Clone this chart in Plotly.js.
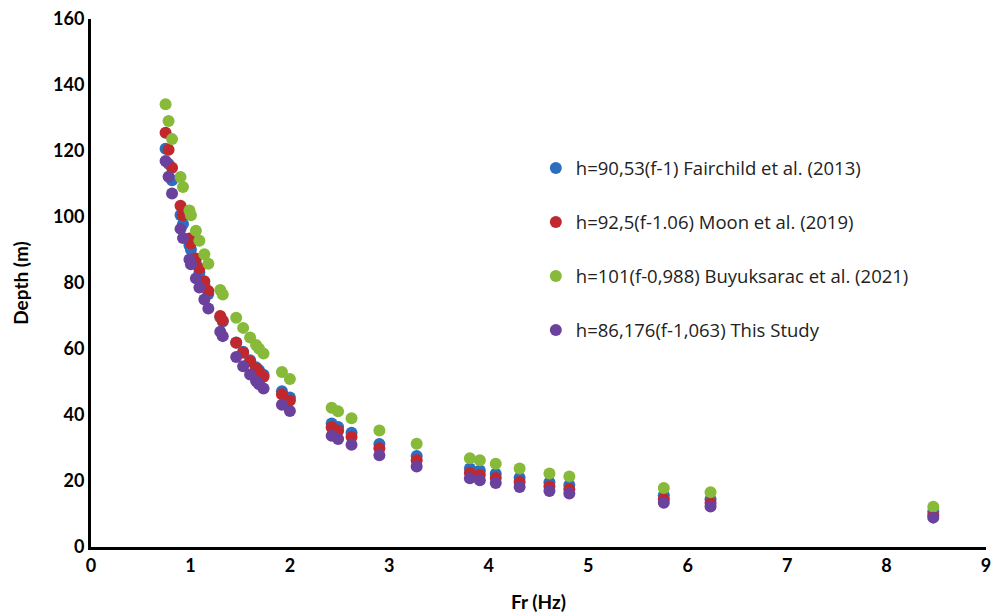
<!DOCTYPE html>
<html>
<head>
<meta charset="utf-8">
<script src="https://cdn.plot.ly/plotly-3.0.1.min.js"></script>
<style>html,body{margin:0;padding:0;background:#fff;}#chart{width:999px;height:613px;}</style>
</head>
<body>
<div id="chart"></div>
<script>
const freq = [0.75, 0.78, 0.815, 0.90, 0.925, 0.99, 1.005, 1.055, 1.09, 1.14, 1.18, 1.30, 1.325, 1.46, 1.53, 1.60, 1.66, 1.69, 1.735, 1.92, 2.0, 2.42, 2.485, 2.62, 2.9, 3.275, 3.81, 3.91, 4.07, 4.31, 4.61, 4.81, 5.76, 6.23, 8.47];
const fairchild = [120.7, 116.1, 111.1, 100.6, 97.9, 91.4, 90.1, 85.8, 83.1, 79.4, 76.7, 69.6, 68.3, 62.0, 59.2, 56.6, 54.5, 53.6, 52.2, 47.2, 45.3, 37.4, 36.4, 34.6, 31.2, 27.6, 23.8, 23.2, 22.2, 21.0, 19.6, 18.8, 15.7, 14.5, 10.7];
const moon = [125.5, 120.4, 114.9, 103.4, 100.5, 93.5, 92.0, 87.4, 84.4, 80.5, 77.6, 70.0, 68.6, 61.9, 58.9, 56.2, 54.1, 53.0, 51.6, 46.3, 44.4, 36.3, 35.2, 33.3, 29.9, 26.3, 22.4, 21.8, 20.9, 19.7, 18.3, 17.5, 14.5, 13.3, 9.6];
const buyuksarac = [134.2, 129.1, 123.6, 112.1, 109.1, 102.0, 100.5, 95.8, 92.8, 88.7, 85.8, 77.9, 76.5, 69.5, 66.4, 63.5, 61.2, 60.1, 58.6, 53.0, 50.9, 42.2, 41.1, 39.0, 35.3, 31.3, 26.9, 26.3, 25.2, 23.8, 22.3, 21.4, 17.9, 16.6, 12.2];
const thisStudy = [117.0, 112.2, 107.1, 96.4, 93.6, 87.1, 85.7, 81.4, 78.6, 75.0, 72.3, 65.2, 63.9, 57.6, 54.8, 52.3, 50.3, 49.3, 48.0, 43.1, 41.2, 33.7, 32.7, 31.0, 27.8, 24.4, 20.8, 20.2, 19.4, 18.2, 17.0, 16.2, 13.4, 12.3, 8.9];
const seriesNames = ["h=90,53(f-1) Fairchild et al. (2013)", "h=92,5(f-1.06) Moon et al. (2019)", "h=101(f-0,988) Buyuksarac et al. (2021)", "h=86,176(f-1,063) This Study"];
const seriesColors = ["#2d6fbf", "#c0282e", "#86ba38", "#6a419d"];
const seriesValues = [fairchild, moon, buyuksarac, thisStudy];
const xTicks = [0,1,2,3,4,5,6,7,8,9];
const yTicks = [0,20,40,60,80,100,120,140,160];

const traces = seriesValues.map((vals, i) => ({
  type: 'scatter', mode: 'markers', x: freq, y: vals, name: seriesNames[i],
  legendgroup: 'g' + i,
  marker: {color: seriesColors[i], size: 12, line: {width: 0}}
}));

const layout = {
  width: 999, height: 613,
  margin: {l: 91, r: 13, t: 19, b: 66},
  paper_bgcolor: '#fff', plot_bgcolor: '#fff',
  font: {family: 'Lato, "Open Sans", sans-serif', color: '#000'},
  showlegend: true,
  legend: {x: 0.497, y: 0.753, xanchor: 'left', yanchor: 'top', bgcolor: 'rgba(0,0,0,0)',
    font: {size: 18.5, color: '#222', family: '"Open Sans", Lato, sans-serif'}, tracegroupgap: 27, itemsizing: 'constant'},
  xaxis: {range: [0, 9], tickvals: xTicks, ticktext: xTicks.map(String), showgrid: false, zeroline: false,
    showline: true, linecolor: '#000', linewidth: 3, ticks: '',
    tickfont: {size: 18, family: 'Lato, sans-serif', weight: 'bold', color: '#000'},
    title: {text: '<b>Fr (Hz)</b>', font: {size: 19, color: '#000'}, standoff: 22}},
  yaxis: {range: [0, 160], tickvals: yTicks, ticktext: yTicks.map(String), showgrid: false, zeroline: false,
    showline: true, linecolor: '#000', linewidth: 3, ticks: '',
    tickfont: {size: 18, family: 'Lato, sans-serif', weight: 'bold', color: '#000'},
    title: {text: '<b>Depth (m)</b>', font: {size: 19, color: '#000'}, standoff: 20}}
};
Plotly.newPlot('chart', traces, layout, {displayModeBar: false, staticPlot: true});
</script>
</body>
</html>
